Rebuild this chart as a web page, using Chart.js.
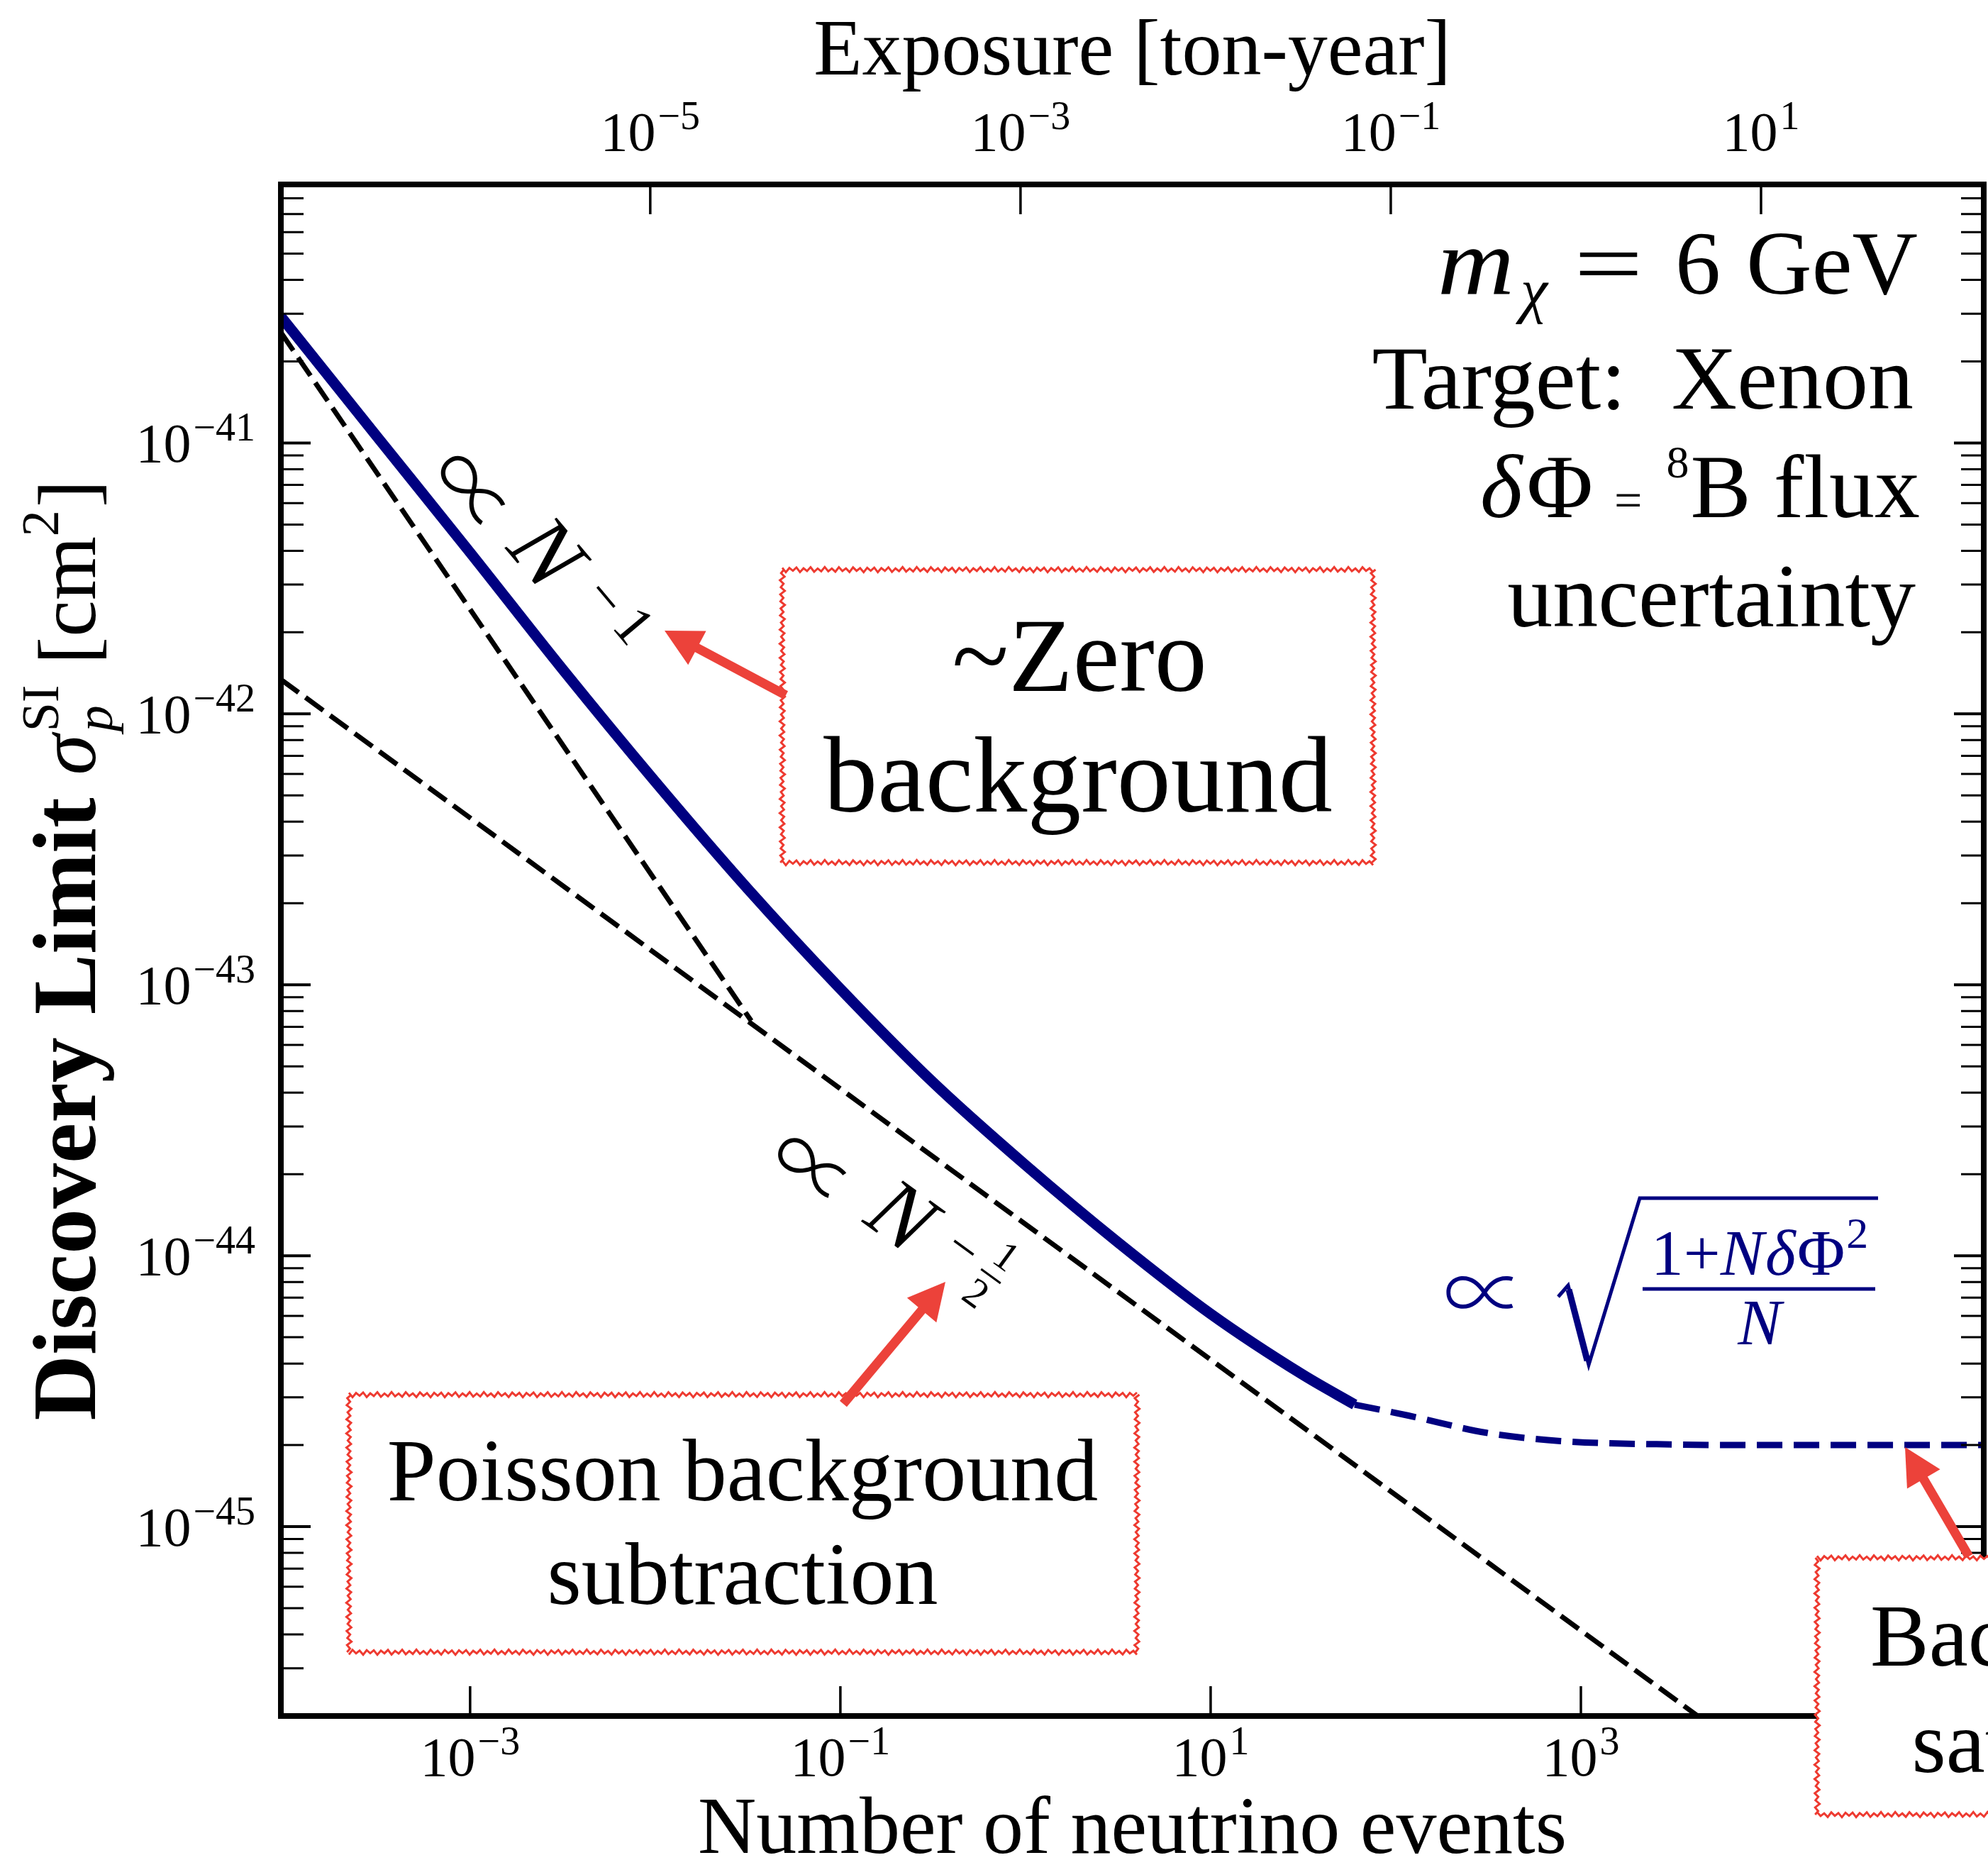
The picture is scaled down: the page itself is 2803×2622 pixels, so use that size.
<!DOCTYPE html>
<html>
<head>
<meta charset="utf-8">
<title>Discovery limit vs number of neutrino events</title>
<script src="https://cdn.jsdelivr.net/npm/chart.js@4.4.1/dist/chart.umd.min.js"></script>
<style>
  html, body { margin: 0; padding: 0; background: #ffffff; }
  canvas { display: block; }
</style>
</head>
<body>
<canvas id="chart" width="2803" height="2622"></canvas>
<script>
// ---- values ----
// x: number of neutrino events N, y: discovery limit sigma_p^SI [cm^2]
const nRange = [9.5e-5, 1.5e5];
const sigmaRange = [2e-46, 9e-41];
const tonYearPerEvent = 1.064e-3;   // top axis (exposure) = N * this

const limitN     = [9.5e-5, 3.16e-4, 1e-3, 3.16e-3, 1e-2, 3.16e-2, 0.1, 0.316, 1, 3.16, 10, 31.6, 60];
const limitSigma = [2.93e-41, 1.05e-41, 3.94e-42, 1.46e-42, 5.62e-43, 2.26e-43, 9.66e-44, 4.37e-44, 2.16e-44, 1.12e-44, 6.1e-45, 3.63e-45, 2.82e-45];

const floorN     = [60, 117, 309, 776, 3160, 1e4, 1.5e5];
const floorSigma = [2.82e-45, 2.57e-45, 2.22e-45, 2.07e-45, 2.01e-45, 2.0e-45, 2.0e-45];

const zeroBgN     = [9.5e-5, 0.033];
const zeroBgSigma = [2.56e-41, 7.36e-44];

const poissonN     = [9.5e-5, 5000];
const poissonSigma = [1.34e-42, 1.85e-46];

const bottomTicks = [1e-3, 1e-1, 1e1, 1e3, 1e5];
const topTicks    = [1e-5, 1e-3, 1e-1, 1e1];
const yTicks      = [1e-41, 1e-42, 1e-43, 1e-44, 1e-45];

const NAVY = '#000080';
const RED_BOX = '#ee3a30';
const RED_ARROW = '#ec423a';
const SERIF = '"Liberation Serif", "DejaVu Serif", serif';
const MATH = '"Noto Sans CJK JP", "DejaVu Sans", serif';
const f  = (px) => `${px}px ${SERIF}`;
const fI = (px) => `italic ${px}px ${SERIF}`;
const fB = (px) => `bold ${px}px ${SERIF}`;
const fM = (px) => `300 ${px}px ${MATH}`;

const pts = (xs, ys) => xs.map((x, i) => ({ x, y: ys[i] }));

// minor ticks on the y axis: 2..9 x 10^k inside the range
const yMinor = [];
for (let k = -47; k <= -40; k++) {
  for (let m = 2; m <= 9; m++) {
    const v = m * Math.pow(10, k);
    if (v >= sigmaRange[0] * 0.999 && v <= sigmaRange[1] * 1.001) yMinor.push(v);
  }
}

// text run: [text, font, dy, extra space after]
function drawRun(ctx, runs, x, y, align) {
  let w = 0;
  runs.forEach(r => { ctx.font = r[1]; w += ctx.measureText(r[0]).width + (r[3] || 0); });
  let cx = align === 'right' ? x - w : align === 'center' ? x - w / 2 : x;
  ctx.textAlign = 'left';
  ctx.textBaseline = 'alphabetic';
  runs.forEach(r => {
    ctx.font = r[1];
    ctx.fillText(r[0], cx, y + (r[2] || 0));
    cx += ctx.measureText(r[0]).width + (r[3] || 0);
  });
  return w;
}

// single piece of text centred at x, optionally stretched horizontally
function piece(ctx, text, font, x, y, sx) {
  ctx.save();
  ctx.translate(x, y);
  ctx.scale(sx || 1, 1);
  ctx.font = font;
  ctx.textAlign = 'center';
  ctx.textBaseline = 'alphabetic';
  ctx.fillText(text, 0, 0);
  ctx.restore();
}

function powLabel(ctx, v, x, y, align) {
  const e = Math.round(Math.log10(v));
  const exp = e < 0 ? '\u2212' + (-e) : String(e);
  drawRun(ctx, [['10', f(78), 0, 3], [exp, f(56), -30]], x, y, align);
}

function rotGlyph(ctx, text, font, cx, cy, deg, color) {
  ctx.save();
  ctx.translate(cx, cy);
  ctx.rotate(deg * Math.PI / 180);
  ctx.font = font;
  ctx.fillStyle = color || '#000';
  ctx.textAlign = 'center';
  ctx.textBaseline = 'middle';
  ctx.fillText(text, 0, 0);
  ctx.restore();
}

function sketchBox(ctx, x0, y0, x1, y1) {
  ctx.save();
  ctx.fillStyle = '#fff';
  ctx.fillRect(x0, y0, x1 - x0, y1 - y0);
  ctx.strokeStyle = RED_BOX;
  ctx.lineWidth = 3;
  const edges = [[x0, y0, x1, y0], [x1, y0, x1, y1], [x1, y1, x0, y1], [x0, y1, x0, y0]];
  edges.forEach(([ax, ay, bx, by], e) => {
    const len = Math.hypot(bx - ax, by - ay), n = Math.round(len / 5);
    const nx = -(by - ay) / len, ny = (bx - ax) / len;
    ctx.beginPath();
    for (let i = 0; i <= n; i++) {
      const t = i / n;
      const off = (i % 2 ? 2.6 : -2.6) * (1 + 0.4 * Math.sin(i * 1.7 + e));
      const px = ax + (bx - ax) * t + nx * off, py = ay + (by - ay) * t + ny * off;
      if (i) ctx.lineTo(px, py); else ctx.moveTo(px, py);
    }
    ctx.stroke();
  });
  ctx.restore();
}

function arrow(ctx, tx, ty, hx, hy) {
  const len = Math.hypot(hx - tx, hy - ty);
  const ux = (hx - tx) / len, uy = (hy - ty) / len;
  const headLen = 52, headW = 54;
  const bx = hx - ux * headLen, by = hy - uy * headLen;
  ctx.save();
  ctx.strokeStyle = RED_ARROW;
  ctx.fillStyle = RED_ARROW;
  ctx.lineWidth = 13;
  ctx.beginPath();
  ctx.moveTo(tx, ty);
  ctx.lineTo(bx + ux * 4, by + uy * 4);
  ctx.stroke();
  ctx.beginPath();
  ctx.moveTo(hx, hy);
  ctx.lineTo(bx - uy * headW / 2, by + ux * headW / 2);
  ctx.lineTo(bx + uy * headW / 2, by - ux * headW / 2);
  ctx.closePath();
  ctx.fill();
  ctx.restore();
}

const decorations = {
  id: 'decorations',
  beforeDraw(chart) {
    const ctx = chart.ctx;
    ctx.save();
    ctx.fillStyle = '#fff';
    ctx.fillRect(0, 0, chart.width, chart.height);
    ctx.restore();
  },
  afterDraw(chart) {
    const ctx = chart.ctx;
    const { left, right, top, bottom } = chart.chartArea;
    const xs = chart.scales.x, x2 = chart.scales.x2, ys = chart.scales.y;
    ctx.save();
    ctx.strokeStyle = '#000';
    ctx.fillStyle = '#000';

    // inward ticks
    ctx.lineWidth = 3;
    yMinor.forEach(v => {
      const p = ys.getPixelForValue(v);
      ctx.beginPath();
      ctx.moveTo(left, p); ctx.lineTo(left + 32, p);
      ctx.moveTo(right, p); ctx.lineTo(right - 32, p);
      ctx.stroke();
    });
    ctx.lineWidth = 4;
    yTicks.forEach(v => {
      const p = ys.getPixelForValue(v);
      ctx.beginPath();
      ctx.moveTo(left, p); ctx.lineTo(left + 42, p);
      ctx.moveTo(right, p); ctx.lineTo(right - 42, p);
      ctx.stroke();
    });
    ctx.lineWidth = 3.5;
    bottomTicks.forEach(v => {
      const p = xs.getPixelForValue(v);
      ctx.beginPath(); ctx.moveTo(p, bottom); ctx.lineTo(p, bottom - 42); ctx.stroke();
    });
    topTicks.forEach(v => {
      const p = x2.getPixelForValue(v);
      ctx.beginPath(); ctx.moveTo(p, top); ctx.lineTo(p, top + 42); ctx.stroke();
    });

    // frame
    ctx.lineWidth = 8;
    ctx.strokeRect(left, top, right - left, bottom - top);

    // tick labels
    bottomTicks.forEach(v => powLabel(ctx, v, xs.getPixelForValue(v), 2503, 'center'));
    topTicks.forEach(v => powLabel(ctx, v, x2.getPixelForValue(v), 212, 'center'));
    yTicks.forEach(v => powLabel(ctx, v, 360, ys.getPixelForValue(v) + 27, 'right'));

    // axis titles
    drawRun(ctx, [['Exposure [ton-year]', f(112)]], (left + right) / 2, 105, 'center');
    drawRun(ctx, [['Number of neutrino events', f(114)]], (left + right) / 2, 2612, 'center');

    ctx.save();
    ctx.translate(134, (top + bottom) / 2);
    ctx.rotate(-Math.PI / 2);
    {
      ctx.font = fB(128); const wA = ctx.measureText('Discovery Limit ').width;
      ctx.font = fI(116); const wS = ctx.measureText('\u03c3').width;
      ctx.font = f(74);   const wSI = ctx.measureText('SI').width;
      ctx.font = f(116);  const wC = ctx.measureText(' [cm').width;
      ctx.font = f(74);   const w2 = ctx.measureText('2').width;
      ctx.font = f(116);  const wE = ctx.measureText(']').width;
      const total = wA + wS + 4 + wSI + wC + w2 + 4 + wE;
      let cx = -total / 2;
      ctx.textAlign = 'left'; ctx.textBaseline = 'alphabetic';
      ctx.font = fB(128); ctx.fillText('Discovery Limit ', cx, 0); cx += wA;
      ctx.font = fI(116); ctx.fillText('\u03c3', cx, 0); cx += wS + 4;
      ctx.font = f(74);   ctx.fillText('SI', cx, -52);
      ctx.font = fI(74);  ctx.fillText('p', cx, 24); cx += wSI;
      ctx.font = f(116);  ctx.fillText(' [cm', cx, 0); cx += wC;
      ctx.font = f(74);   ctx.fillText('2', cx, -52); cx += w2 + 4;
      ctx.font = f(116);  ctx.fillText(']', cx, 0);
    }
    ctx.restore();

    // top-right block
    piece(ctx, 'm', fI(134), 2081, 414, 1.12);
    piece(ctx, '\u03c7', fI(86), 2163, 438);
    piece(ctx, '=', f(128), 2268, 414, 1.35);
    piece(ctx, '6', f(128), 2394, 414);
    drawRun(ctx, [['GeV', f(128)]], 2704, 414, 'right');
    drawRun(ctx, [['Target:  Xenon', f(128)]], 2698, 576, 'right');
    drawRun(ctx, [['\u03b4', fI(128), 0, 6], ['\u03a6', f(128), 0, 30], ['=', f(70), 0, 34],
                  ['8', f(64), -56, 2], ['B flux', f(128)]], 2707, 729, 'right');
    drawRun(ctx, [['uncertainty', f(128)]], 2701, 883, 'right');

    // slope labels along the dashed lines
    rotGlyph(ctx, '\u221d', fM(124), 668, 692, 50);
    rotGlyph(ctx, 'N', fI(128), 765, 784, 50);
    rotGlyph(ctx, '\u2212', f(80), 850, 845, 50);
    rotGlyph(ctx, '1', f(80), 890, 885, 50);

    rotGlyph(ctx, '\u221d', fM(120), 1147, 1646, 36);
    rotGlyph(ctx, 'N', fI(124), 1267, 1720, 36);
    rotGlyph(ctx, '\u2212', f(72), 1356, 1763, 36);
    rotGlyph(ctx, '1', f(58), 1417, 1774, 36);
    rotGlyph(ctx, '2', f(58), 1374, 1826, 36);
    ctx.save();
    ctx.translate(1397, 1799); ctx.rotate(36 * Math.PI / 180);
    ctx.lineWidth = 3; ctx.beginPath(); ctx.moveTo(-17, 0); ctx.lineTo(17, 0); ctx.stroke();
    ctx.restore();

    // blue formula  ∝ sqrt((1 + N dPhi^2) / N)
    ctx.fillStyle = NAVY; ctx.strokeStyle = NAVY;
    rotGlyph(ctx, '\u221d', fM(116), 2093, 1821, 0, NAVY);
    ctx.lineJoin = 'miter';
    ctx.lineWidth = 5;
    ctx.beginPath();
    ctx.moveTo(2197, 1828); ctx.lineTo(2211, 1812); ctx.lineTo(2240, 1924);
    ctx.lineTo(2312, 1689); ctx.lineTo(2648, 1689);
    ctx.stroke();
    ctx.lineWidth = 9;
    ctx.beginPath(); ctx.moveTo(2212, 1818); ctx.lineTo(2238, 1918); ctx.stroke();
    drawRun(ctx, [['1+', f(92)], ['N', fI(92), 0, 2], ['\u03b4', fI(92), 0, 2], ['\u03a6', f(92), 0, 2],
                  ['2', f(62), -38]], 2481, 1797, 'center');
    ctx.lineWidth = 5;
    ctx.beginPath(); ctx.moveTo(2316, 1817); ctx.lineTo(2644, 1817); ctx.stroke();
    drawRun(ctx, [['N', fI(92)]], 2481, 1895, 'center');
    ctx.fillStyle = '#000'; ctx.strokeStyle = '#000';

    // boxed captions
    sketchBox(ctx, 1103, 803, 1936, 1216);
    drawRun(ctx, [['~Zero', f(148)]], 1522, 974, 'center');
    drawRun(ctx, [['background', f(152)]], 1520, 1144, 'center');

    sketchBox(ctx, 492, 1966, 1603, 2329);
    drawRun(ctx, [['Poisson background', f(124)]], 1047, 2115, 'center');
    drawRun(ctx, [['subtraction', f(124)]], 1047, 2261, 'center');

    sketchBox(ctx, 2562, 2196, 3318, 2558);
    drawRun(ctx, [['Background', f(124)]], 2940, 2348, 'center');
    drawRun(ctx, [['saturation', f(124)]], 2940, 2498, 'center');

    // arrows
    arrow(ctx, 1108, 980, 937, 889);
    arrow(ctx, 1189, 1979, 1333, 1807);
    arrow(ctx, 2776, 2194, 2686, 2040);

    ctx.restore();
  }
};

new Chart(document.getElementById('chart'), {
  type: 'line',
  data: {
    datasets: [
      { label: 'Discovery limit', data: pts(limitN, limitSigma), borderColor: NAVY, borderWidth: 15,
        cubicInterpolationMode: 'monotone', pointRadius: 0, clip: 0 },
      { label: 'Flux-uncertainty floor', data: pts(floorN, floorSigma), borderColor: NAVY, borderWidth: 9,
        borderDash: [36, 16], cubicInterpolationMode: 'monotone', pointRadius: 0, clip: 0 },
      { label: 'Zero background', data: pts(zeroBgN, zeroBgSigma), borderColor: '#000', borderWidth: 7,
        borderDash: [31, 12], pointRadius: 0, clip: 0 },
      { label: 'Poisson background subtraction', data: pts(poissonN, poissonSigma), borderColor: '#000', borderWidth: 7,
        borderDash: [31, 12], pointRadius: 0, clip: 0 }
    ]
  },
  options: {
    responsive: false,
    animation: false,
    devicePixelRatio: 1,
    layout: { padding: { left: 396, right: 6, top: 260, bottom: 203 } },
    scales: {
      x:  { type: 'logarithmic', min: nRange[0], max: nRange[1], display: false },
      x2: { type: 'logarithmic', position: 'top', min: nRange[0] * tonYearPerEvent, max: nRange[1] * tonYearPerEvent, display: false },
      y:  { type: 'logarithmic', min: sigmaRange[0], max: sigmaRange[1], display: false }
    },
    plugins: { legend: { display: false }, tooltip: { enabled: false } }
  },
  plugins: [decorations]
});
</script>
</body>
</html>
